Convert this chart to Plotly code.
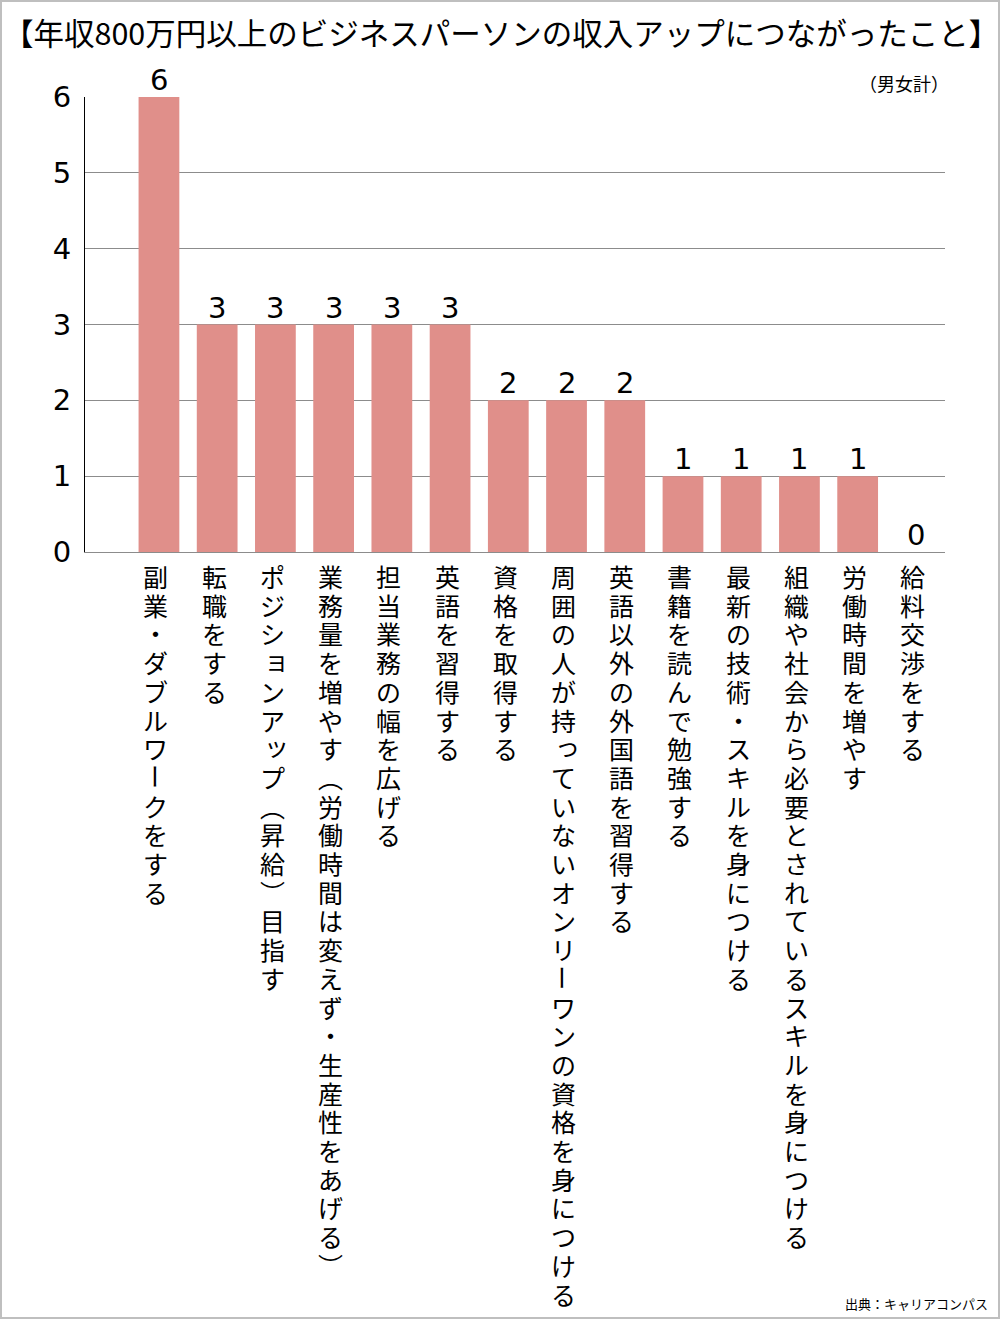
import plotly.graph_objects as go

# data
labels = [
    "副業・ダブルワークをする",
    "転職をする",
    "ポジションアップ（昇給）目指す",
    "業務量を増やす（労働時間は変えず・生産性をあげる）",
    "担当業務の幅を広げる",
    "英語を習得する",
    "資格を取得する",
    "周囲の人が持っていないオンリーワンの資格を身につける",
    "英語以外の外国語を習得する",
    "書籍を読んで勉強する",
    "最新の技術・スキルを身につける",
    "組織や社会から必要とされているスキルを身につける",
    "労働時間を増やす",
    "給料交渉をする",
]
values = [6, 3, 3, 3, 3, 3, 2, 2, 2, 1, 1, 1, 1, 0]
y_ticks = [0, 1, 2, 3, 4, 5, 6]

title_text = "【年収800万円以上のビジネスパーソンの収入アップにつながったこと】"
unit_text = "（男女計）"
source_text = "出典：キャリアコンパス"

W, H = 1000, 1319
ml, mr, mt, mb = 85, 55, 97, 767
pw, ph = W - ml - mr, H - mt - mb

CJK = "Noto Sans CJK JP"
NUM = "DejaVu Sans"
bar_color = "#E08F8A"


def px_x(x):
    return (x - ml) / pw


def px_y(y):
    return (H - mb - y) / ph


# vertical writing: swap brackets, rotate the long vowel, nudge small kana
vert_map = {"（": "︵", "）": "︶"}
small_kana = set("ッョャュっょゃゅ")

xs = list(range(len(labels)))

fig = go.Figure()
fig.add_trace(go.Bar(
    x=xs, y=values,
    marker=dict(color=bar_color, line=dict(width=0)),
    width=0.7,
    hoverinfo="skip",
))

annotations = []
step = 28.7
for i, (lab, v) in enumerate(zip(labels, values)):
    annotations.append(dict(
        x=i, y=v, xref="x", yref="y", text=str(v), showarrow=False,
        xanchor="center", yanchor="bottom", yshift=-2,
        font=dict(family=NUM, size=29, color="black"),
    ))
    for j, ch in enumerate(lab):
        dx, dy, ang = -3, 0, 0
        if ch in small_kana:
            dx, dy = 1, 3
        if ch == "ー":
            ang = 90
        annotations.append(dict(
            x=i, y=0, xref="x", yref="y",
            text=vert_map.get(ch, ch), showarrow=False, textangle=ang,
            xanchor="center", yanchor="middle",
            xshift=dx, yshift=-(24 + j * step) + dy,
            font=dict(family=CJK, size=25, color="black"),
        ))

annotations.append(dict(
    x=0.5, y=px_y(32), xref="paper", yref="paper", text=title_text,
    showarrow=False, xanchor="center", yanchor="middle",
    xshift=(501 - (ml + pw / 2)),
    font=dict(family=CJK, size=30.5, color="black"),
))
annotations.append(dict(
    x=1, y=px_y(83), xref="paper", yref="paper", text=unit_text,
    showarrow=False, xanchor="right", yanchor="middle", xshift=6,
    font=dict(family=CJK, size=18, color="black"),
))
annotations.append(dict(
    x=px_x(990), y=px_y(1303), xref="paper", yref="paper", text=source_text,
    showarrow=False, xanchor="right", yanchor="middle",
    font=dict(family=CJK, size=13, color="black"),
))

fig.update_layout(
    width=W, height=H,
    margin=dict(l=ml, r=mr, t=mt, b=mb),
    plot_bgcolor="white", paper_bgcolor="white",
    showlegend=False,
    annotations=annotations,
    shapes=[dict(
        type="rect", xref="paper", yref="paper",
        x0=px_x(1), x1=px_x(W - 1), y0=px_y(H - 1), y1=px_y(1),
        line=dict(color="#BFBFBF", width=2), layer="below",
    )],
)
fig.update_xaxes(
    range=[-1.27, 13.5], showticklabels=False, ticks="",
    showgrid=False, zeroline=False,
    showline=True, linecolor="#8C8C8C", linewidth=1,
)
fig.update_yaxes(
    range=[0, 6], tickvals=y_ticks, ticks="",
    tickfont=dict(family=NUM, size=29, color="black"),
    showgrid=True, gridcolor="#8C8C8C", gridwidth=1,
    zeroline=False, showline=True, linecolor="black", linewidth=1,
    ticklabelstandoff=7,
)

fig.write_html("out.html", config={"displayModeBar": False},
               post_script="document.body.style.margin='0';")
